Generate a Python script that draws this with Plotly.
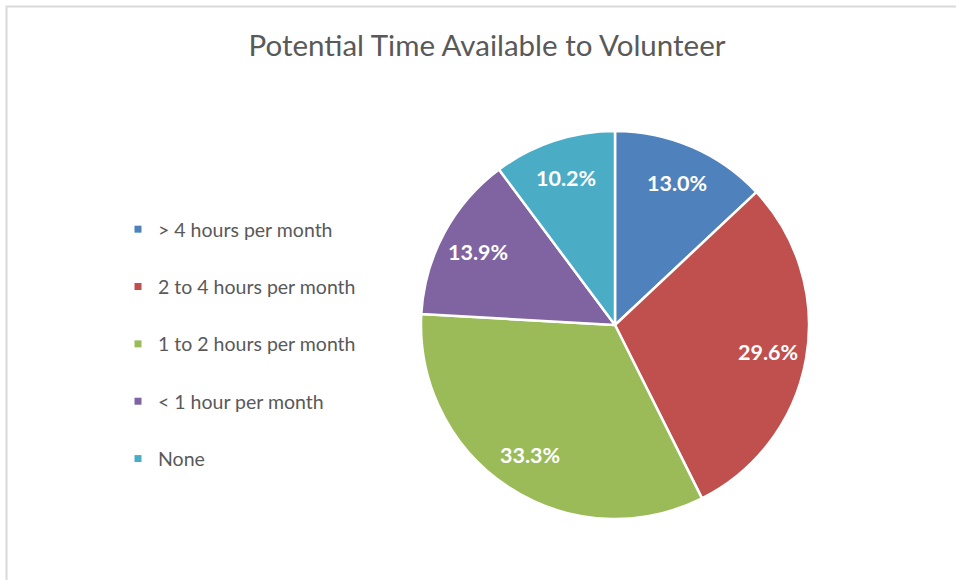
import numpy as np
import plotly.graph_objects as go

# Survey answers: how much time people could give to volunteering
categories = ["> 4 hours per month", "2 to 4 hours per month", "1 to 2 hours per month",
              "< 1 hour per month", "None"]
shares = [13.0, 29.6, 33.3, 13.9, 10.2]
colors = ["#4F81BD", "#C0504D", "#9BBB59", "#8064A2", "#4BACC6"]

W, H = 956, 580
FONT = "Lato"

# pie placement in pixels (paper == full figure, margins are zero)
cx, cy, R = 615, 325, 194

fig = go.Figure()
fig.add_trace(go.Pie(
    labels=categories, values=shares, sort=False, direction="clockwise", rotation=0,
    marker=dict(colors=colors, line=dict(color="white", width=2.5)),
    textinfo="none", hoverinfo="label+percent", showlegend=False,
    domain=dict(x=[(cx - R) / W, (cx + R) / W], y=[1 - (cy + R) / H, 1 - (cy - R) / H]),
))

# percentage labels at 80% of the radius, on each slice's mid angle
vals = np.array(shares)
cum = np.cumsum(vals) - vals / 2
mid = cum / vals.sum() * 2 * np.pi
for v, a in zip(shares, mid):
    px = cx + 0.80 * R * np.sin(a)
    py = cy - 0.80 * R * np.cos(a)
    fig.add_annotation(x=px / W, y=1 - py / H, xref="paper", yref="paper",
                       xanchor="center", yanchor="middle",
                       text=f"<b>{v:.1f}%</b>", showarrow=False,
                       font=dict(family=FONT, size=21.5, color="white"))

# legend entries with square swatches
for name, col in zip(categories, colors):
    fig.add_trace(go.Scatter(x=[None], y=[None], mode="markers", name=name,
                             legendgroup=name,
                             marker=dict(symbol="square", size=7, color=col)))

fig.update_layout(
    width=W, height=H,
    margin=dict(l=0, r=0, t=0, b=0),
    paper_bgcolor="white", plot_bgcolor="white",
    xaxis=dict(visible=False), yaxis=dict(visible=False),
    title=dict(text="Potential Time Available to Volunteer", x=487 / W, xanchor="center",
               y=1 - 46 / H, yanchor="middle", yref="container",
               font=dict(family=FONT, size=29.5, color="#595959")),
    legend=dict(x=118 / W, xanchor="left", y=1 - 210 / H, yanchor="top",
                traceorder="grouped", tracegroupgap=29,
                font=dict(family=FONT, size=19.5, color="#595959"),
                bgcolor="rgba(0,0,0,0)"),
    shapes=[dict(type="rect", xref="paper", yref="paper",
                 x0=6.5 / W, x1=1.05, y0=-0.05, y1=1 - 6.5 / H,
                 line=dict(color="#D9D9D9", width=2), fillcolor="rgba(0,0,0,0)",
                 layer="below")],
)

fig.write_html("out.html")
